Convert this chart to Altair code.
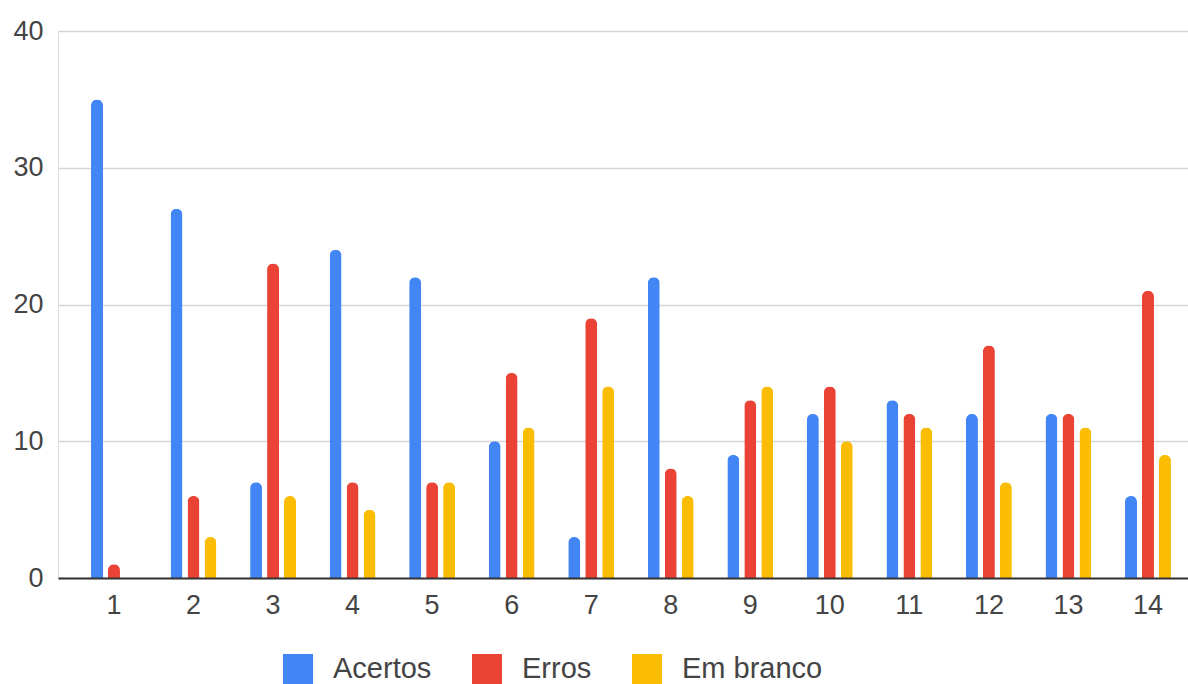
import altair as alt
import pandas as pd

questions = [str(i) for i in range(1, 15)]
series = ["Acertos", "Erros", "Em branco"]
acertos = [35, 27, 7, 24, 22, 10, 3, 22, 9, 12, 13, 12, 12, 6]
erros = [1, 6, 23, 7, 7, 15, 19, 8, 13, 14, 12, 17, 12, 21]
em_branco = [0, 3, 6, 5, 7, 11, 14, 6, 14, 10, 11, 7, 11, 9]
colors = ["#4285F4", "#EA4335", "#FBBC04"]
y_ticks = [0, 10, 20, 30, 40]

rows = []
for s, vals in zip(series, [acertos, erros, em_branco]):
    for q, v in zip(questions, vals):
        rows.append({"questao": q, "serie": s, "valor": v})
df = pd.DataFrame(rows)

FONT = "Liberation Sans"
TXT = "#444444"

chart = alt.Chart(df).mark_bar(
    width=12, cornerRadiusTopLeft=6, cornerRadiusTopRight=6
).encode(
    x=alt.X("questao:N", sort=questions, title=None,
            scale=alt.Scale(paddingInner=0.36, paddingOuter=0.2835, align=0.677),
            axis=alt.Axis(labelAngle=0, labelFontSize=27, labelFont=FONT, labelColor=TXT,
                          ticks=False, domain=True, domainColor="#333333", domainWidth=2,
                          labelPadding=14, grid=False, zindex=1)),
    xOffset=alt.XOffset("serie:N", sort=series,
                        scale=alt.Scale(paddingInner=0, paddingOuter=0)),
    y=alt.Y("valor:Q", title=None,
            scale=alt.Scale(domain=[0, 40], nice=False),
            axis=alt.Axis(values=y_ticks, labelFontSize=27, labelFont=FONT, labelColor=TXT,
                          ticks=False, domain=False, domainOpacity=0, labelPadding=15,
                          gridColor="#d6d6d6", gridWidth=1.5)),
    color=alt.Color("serie:N", sort=series,
                    scale=alt.Scale(domain=series, range=colors),
                    legend=alt.Legend(title=None, orient="none", direction="horizontal",
                                      legendX=225, legendY=623,
                                      symbolType="square", symbolSize=900,
                                      symbolStrokeWidth=0, symbolOpacity=1,
                                      labelFontSize=29, labelFont=FONT, labelColor=TXT,
                                      labelOffset=20, columnPadding=40, padding=0)),
).properties(
    width=1130, height=547,
    autosize=alt.AutoSizeParams(type="none"),
    padding={"left": 58, "top": 31, "right": 0, "bottom": 106},
).configure_view(
    strokeWidth=0, stroke="transparent", strokeOpacity=0
).configure_axisY(domain=False, domainOpacity=0).configure(background="white")

chart.save("out.html", embed_options={"renderer": "svg", "actions": False})
